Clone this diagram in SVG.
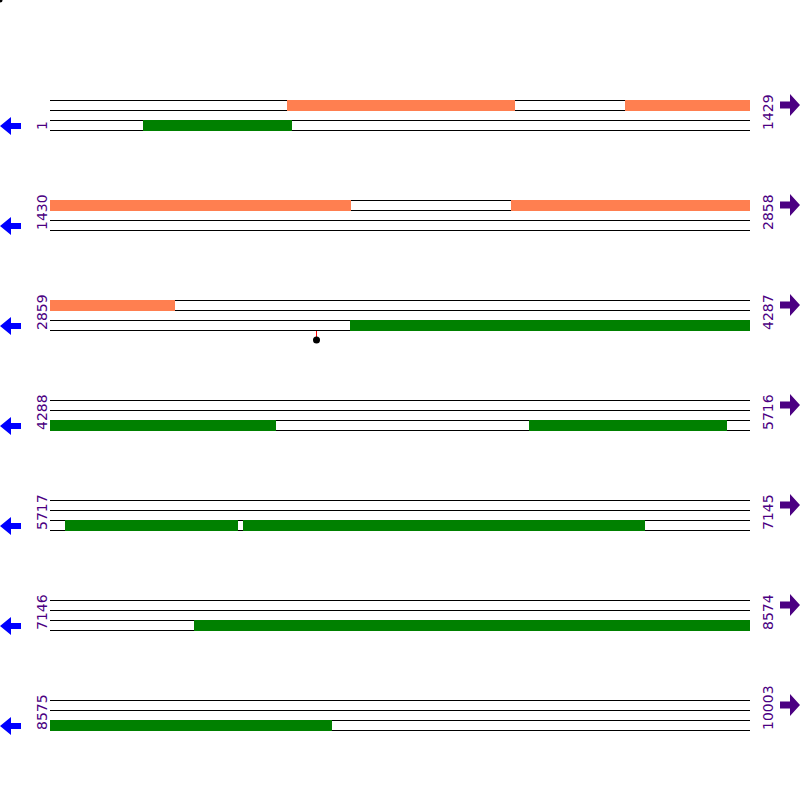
<svg xmlns="http://www.w3.org/2000/svg" width="800" height="800" viewBox="0 0 800 800">
<defs>
<style>
.bg{fill:#fff}
.ln{stroke:#000;stroke-width:1;fill:none}
.or{fill:#FF7F50}
.gr{fill:#008000}
.lbl{font-family:"DejaVu Sans",sans-serif;font-size:14px;fill:#4B0082}
.la{fill:#0000FF}
.ra{fill:#4B0082}
</style>
<g id="rowbase">
<path class="ln" d="M50,100.5H750M50,110.5H750M50,120.5H750M50,130.5H750"/>
<path class="la" d="M0,126L11,117V123H21V129H11V135Z"/>
<path class="ra" d="M800,105L790,94V101.5H780V108.5H790V116Z"/>
</g>
</defs>
<rect class="bg" width="800" height="800"/>
<circle cx="0" cy="0" r="2.5" fill="#000"/>

<g id="row1">
<use href="#rowbase"/>
<rect class="or" x="287" y="100" width="228" height="11"/>
<rect class="or" x="625" y="100" width="125" height="11"/>
<rect class="gr" x="143" y="120" width="149" height="11"/>
<text class="lbl" transform="translate(47,130) rotate(-90)">1</text>
<text class="lbl" transform="translate(773,130) rotate(-90)">1429</text>
</g>

<g id="row2">
<use href="#rowbase" y="100"/>
<rect class="or" x="50" y="200" width="301" height="11"/>
<rect class="or" x="511" y="200" width="239" height="11"/>
<text class="lbl" transform="translate(47,230) rotate(-90)">1430</text>
<text class="lbl" transform="translate(773,230) rotate(-90)">2858</text>
</g>

<g id="row3">
<use href="#rowbase" y="200"/>
<rect class="or" x="50" y="300" width="125" height="11"/>
<rect class="gr" x="350" y="320" width="400" height="11"/>
<text class="lbl" transform="translate(47,330) rotate(-90)">2859</text>
<text class="lbl" transform="translate(773,330) rotate(-90)">4287</text>
</g>

<g id="row4">
<use href="#rowbase" y="300"/>
<rect class="gr" x="50" y="420" width="226" height="11"/>
<rect class="gr" x="529" y="420" width="198" height="11"/>
<text class="lbl" transform="translate(47,430) rotate(-90)">4288</text>
<text class="lbl" transform="translate(773,430) rotate(-90)">5716</text>
</g>

<g id="row5">
<use href="#rowbase" y="400"/>
<rect class="gr" x="65" y="520" width="173" height="11"/>
<rect class="gr" x="243" y="520" width="402" height="11"/>
<text class="lbl" transform="translate(47,530) rotate(-90)">5717</text>
<text class="lbl" transform="translate(773,530) rotate(-90)">7145</text>
</g>

<g id="row6">
<use href="#rowbase" y="500"/>
<rect class="gr" x="194" y="620" width="556" height="11"/>
<text class="lbl" transform="translate(47,630) rotate(-90)">7146</text>
<text class="lbl" transform="translate(773,630) rotate(-90)">8574</text>
</g>

<g id="row7">
<use href="#rowbase" y="600"/>
<rect class="gr" x="50" y="720" width="282" height="11"/>
<text class="lbl" transform="translate(47,730) rotate(-90)">8575</text>
<text class="lbl" transform="translate(773,730) rotate(-90)">10003</text>
</g>

<g id="connectors">
<line x1="316.5" y1="331" x2="316.5" y2="340" stroke="#FF0000" stroke-width="1"/>
<circle cx="316.5" cy="340" r="3.5" fill="#000"/>
</g>
</svg>
